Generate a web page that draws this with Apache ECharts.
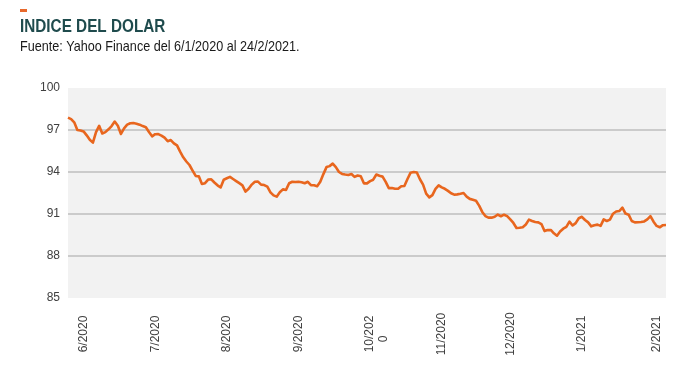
<!DOCTYPE html>
<html>
<head>
<meta charset="utf-8">
<script src="https://cdn.jsdelivr.net/npm/echarts@6/dist/echarts.min.js"></script>
<style>
html,body{margin:0;padding:0;background:#fff;}
#chart{width:681px;height:372px;}
</style>
</head>
<body>
<div id="chart"></div>
<script>
// Daily close of the US Dollar Index (trading days from 1 June 2020 to 24 Feb 2021)
const startDate = [2020, 6, 1];
const values = [
97.88,97.78,97.55,97.0,96.97,96.9,96.62,96.3,96.1,96.85,
97.3,96.75,96.85,97.05,97.28,97.6,97.3,96.72,97.12,97.38,
97.48,97.5,97.45,97.38,97.28,97.2,96.86,96.55,96.7,96.71,
96.6,96.45,96.2,96.28,96.05,95.9,95.45,95.05,94.75,94.5,
94.1,93.72,93.69,93.15,93.2,93.46,93.48,93.25,93.05,92.9,
93.45,93.55,93.65,93.5,93.35,93.2,93.05,92.6,92.8,93.1,
93.3,93.31,93.1,93.07,92.95,92.55,92.33,92.24,92.55,92.76,
92.72,93.2,93.3,93.28,93.3,93.27,93.2,93.3,93.06,93.05,
92.98,93.3,93.85,94.35,94.42,94.6,94.35,94.0,93.86,93.82,
93.79,93.86,93.65,93.75,93.7,93.19,93.19,93.35,93.45,93.82,
93.73,93.67,93.3,92.85,92.85,92.8,92.8,92.98,93.0,93.5,
93.95,94.0,93.96,93.48,93.1,92.45,92.19,92.35,92.8,93.05,
92.9,92.8,92.65,92.48,92.38,92.4,92.44,92.5,92.24,92.08,
92.02,91.95,91.6,91.15,90.85,90.74,90.74,90.8,90.96,90.84,
90.95,90.85,90.62,90.36,90.0,90.02,90.06,90.25,90.6,90.5,
90.43,90.4,90.28,89.78,89.85,89.86,89.62,89.45,89.75,89.95,
90.08,90.45,90.18,90.35,90.7,90.8,90.57,90.4,90.12,90.2,
90.24,90.15,90.62,90.5,90.6,91.02,91.18,91.21,91.45,91.03,
90.95,90.5,90.4,90.41,90.43,90.47,90.62,90.85,90.45,90.15,
90.05,90.2,90.21
];
// x-axis tick labels and the category index each one sits on
const tickLabels = ['6/2020','7/2020','8/2020','9/2020','10/202\n0   ','11/2020','12/2020','1/2021','2/2021'];
const tickIndex = [5, 28, 51, 74, 99, 120, 142, 165, 189];
const yTicks = { min: 85, max: 100, interval: 3 };

const titleText = 'INDICE DEL DOLAR';
const subtitleText = 'Fuente: Yahoo Finance del 6/1/2020 al 24/2/2021.';

// categories: weekdays starting at startDate
const categories = [];
(function(){
  const d = new Date(Date.UTC(startDate[0], startDate[1]-1, startDate[2]));
  while (categories.length < values.length) {
    const wd = d.getUTCDay();
    if (wd !== 0 && wd !== 6) {
      categories.push(d.getUTCDate() + '/' + (d.getUTCMonth()+1) + '/' + d.getUTCFullYear());
    }
    d.setUTCDate(d.getUTCDate() + 1);
  }
})();

const chart = echarts.init(document.getElementById('chart'), null, {renderer: 'canvas'});
const FONT = '"Liberation Sans", Arial, sans-serif';
chart.setOption({
  animation: false,
  backgroundColor: '#ffffff',
  graphic: [
    { type: 'rect', shape: { x: 20, y: 9, width: 7, height: 3 }, style: { fill: '#E8692C' } },
    { type: 'text', x: 20, y: 18.5, scaleX: 0.85, scaleY: 1,
      style: { x: 0, y: 0, text: titleText, fill: '#1F4B4D',
        font: 'bold 18px ' + FONT, textVerticalAlign: 'top' } },
    { type: 'text', x: 20, y: 39, scaleX: 0.87, scaleY: 1,
      style: { x: 0, y: 0, text: subtitleText, fill: '#1a1a1a',
        font: '14.5px ' + FONT, textVerticalAlign: 'top' } }
  ],
  grid: {
    left: 68, right: 15, top: 88, bottom: 74,
    show: true, backgroundColor: '#F2F2F2', borderWidth: 0
  },
  xAxis: {
    type: 'category',
    data: categories,
    boundaryGap: false,
    axisLine: { show: false },
    axisTick: { show: false },
    splitLine: { show: false },
    axisLabel: {
      rotate: 90,
      align: 'center',
      verticalAlign: 'middle',
      margin: 36,
      color: '#404040',
      fontFamily: FONT,
      fontSize: 12,
      lineHeight: 14,
      interval: function (idx) { return tickIndex.indexOf(idx) >= 0; },
      formatter: function (val, idx) {
        const k = tickIndex.indexOf(idx);
        return k >= 0 ? tickLabels[k] : '';
      }
    }
  },
  yAxis: {
    type: 'value',
    min: yTicks.min, max: yTicks.max, interval: yTicks.interval,
    axisLine: { show: false },
    axisTick: { show: false },
    axisLabel: { color: '#404040', fontFamily: FONT, fontSize: 12, margin: 8 },
    splitLine: { show: true, showMinLine: false, showMaxLine: false,
      lineStyle: { color: '#BEBEBE', width: 1.5 } }
  },
  series: [{
    type: 'line',
    data: values,
    symbol: 'none',
    smooth: false,
    lineStyle: { color: '#E8661E', width: 2.6, join: 'round' }
  }]
});
</script>
</body>
</html>
